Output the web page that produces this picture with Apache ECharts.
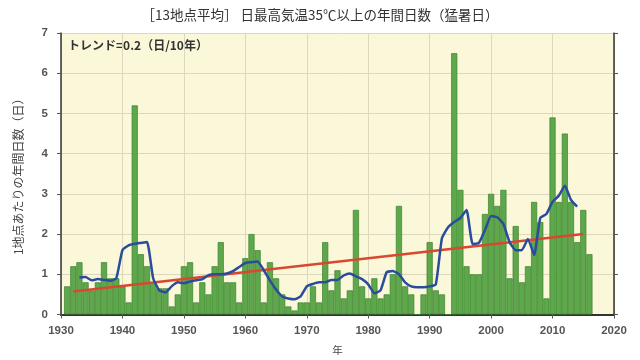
<!DOCTYPE html>
<html><head><meta charset="utf-8">
<script src="https://cdn.jsdelivr.net/npm/echarts@6/dist/echarts.min.js"></script>
<style>html,body{margin:0;padding:0;background:#fff}#c{width:640px;height:360px}</style>
</head><body><div id="c"></div>
<script>
const years = [];
for (let y = 1931; y <= 2016; y++) years.push(y);
const days = [
 0.7,1.2,1.3,0.8,0.6,0.8,1.3,0.9,0.9,0.7,
 0.3,5.2,1.5,1.2,0.8,0.65,0.65,0.2,0.5,1.2,
 1.3,0.3,0.8,0.5,1.2,1.8,0.8,0.8,0.3,1.4,
 2.0,1.6,0.3,1.3,0.9,0.5,0.2,0.1,0.3,0.3,
 0.7,0.3,1.8,0.6,1.1,0.4,0.6,2.6,0.7,0.4,
 0.9,0.4,0.5,1.0,2.7,0.7,0.5,0.0,0.5,1.8,
 0.6,0.5,0.0,6.5,3.1,1.2,1.0,1.0,2.5,3.0,
 2.7,3.1,0.9,2.2,0.8,1.2,2.8,2.3,0.4,4.9,
 2.8,4.5,2.8,1.8,2.6,1.5
];
const maYears = [];
for (let y = 1933; y <= 2014; y++) maYears.push(y);
const maValues = [
 0.92,0.93,0.85,0.88,0.86,0.84,0.9,1.6,1.72,1.76,
 1.78,1.8,0.9,0.6,0.55,0.7,0.8,0.78,0.82,0.85,
 0.88,0.98,1.0,1.0,1.02,1.08,1.18,1.28,1.3,1.32,
 1.1,0.85,0.62,0.45,0.4,0.38,0.45,0.7,0.76,0.8,
 0.8,0.86,0.86,0.97,1.02,0.95,0.88,0.75,0.53,0.6,
 1.05,1.08,1.0,0.8,0.7,0.68,0.68,0.7,0.75,1.9,
 2.17,2.3,2.4,2.6,1.75,1.78,2.1,2.45,2.42,2.25,
 1.8,1.6,1.6,1.88,1.48,2.4,2.5,2.8,2.95,3.2,
 2.85,2.68
];
const trendYears = [1932, 2015];
const trendValues = [0.57, 2.0];
const xTicks = [1930,1940,1950,1960,1970,1980,1990,2000,2010,2020];
const yTicks = [0,1,2,3,4,5,6,7];

const jp = '"Noto Sans CJK JP", "Noto Sans", sans-serif';
const chart = echarts.init(document.getElementById('c'), null, {renderer:'canvas'});
const axisLine = {show:true, lineStyle:{color:'#333', width:1.5}};
const tick = {show:true, inside:false, length:4, lineStyle:{color:'#555'}};
const numLabel = {color:'#555', fontSize:11.5, fontWeight:'bold', fontFamily:'"Liberation Sans", Arial, sans-serif'};
chart.setOption({
  animation:false,
  backgroundColor:'#fff',
  title:{text:'［13地点平均］ 日最高気温35℃以上の年間日数（猛暑日）', left:'center', top:3,
    textStyle:{fontFamily:jp, fontSize:13.5, fontWeight:'normal', color:'#333'}},
  grid:{left:61, right:26, top:33, bottom:38, show:true, backgroundColor:'#fbf8da', borderColor:'#333', borderWidth:0},
  xAxis:[
    {type:'value', min:xTicks[0], max:xTicks[xTicks.length-1], interval:10,
     axisLine:axisLine, axisTick:tick,
     axisLabel:Object.assign({margin:10, formatter:v=>String(v)}, numLabel),
     splitLine:{show:true, lineStyle:{color:'#dcd8bd', width:1}},
     name:'年', nameLocation:'middle', nameGap:30, nameTextStyle:{fontFamily:jp, fontSize:10.5, color:'#444'}},
    {type:'value', position:'top', min:xTicks[0], max:xTicks[xTicks.length-1], interval:10,
     axisLine:{show:true, lineStyle:{color:'#333', width:2}}, axisTick:tick, axisLabel:{show:false}, splitLine:{show:false}}
  ],
  yAxis:[
    {type:'value', min:yTicks[0], max:yTicks[yTicks.length-1], interval:1,
     axisLine:axisLine, axisTick:tick,
     axisLabel:Object.assign({margin:13}, numLabel),
     splitLine:{show:true, lineStyle:{color:'#dcd8bd', width:1}},
     name:'1地点あたりの年間日数（日）', nameLocation:'middle', nameGap:37, nameRotate:90,
     nameTextStyle:{fontFamily:jp, fontSize:12, color:'#444'}},
    {type:'value', position:'right', min:yTicks[0], max:yTicks[yTicks.length-1], interval:1,
     axisLine:axisLine, axisTick:tick, axisLabel:{show:false}, splitLine:{show:false}}
  ],
  graphic:[{type:'text', left:68, top:39, style:{text:'トレンド=0.2（日/10年）', font:'bold 12px "Noto Sans CJK JP"', fill:'#333'}}],
  series:[
    {type:'bar', xAxisIndex:0, yAxisIndex:0, barWidth:6.1,
     data: years.map((y,i)=>[y, days[i]]),
     itemStyle:{color:'#5da84b', borderColor:'#3d7f31', borderWidth:0.7}},
    {type:'line', xAxisIndex:0, yAxisIndex:0, data: trendYears.map((y,i)=>[y, trendValues[i]]),
     symbol:'none', lineStyle:{color:'#d9482e', width:2.5}, z:3},
    {type:'line', xAxisIndex:0, yAxisIndex:0, data: maYears.map((y,i)=>[y, maValues[i]]),
     symbol:'none', smooth:0.15, lineStyle:{color:'#2a4c9c', width:2.5}, z:4}
  ]
});
</script></body></html>
